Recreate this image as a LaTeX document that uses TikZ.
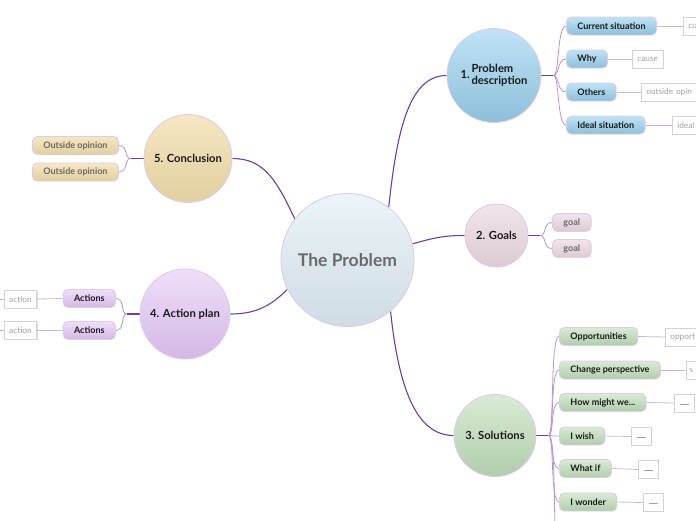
\documentclass[tikz,border=0pt]{standalone}
\usepackage{fontspec}
\setmainfont{Lato}
\usetikzlibrary{shadows}
\definecolor{edgemain}{HTML}{6B3FA0}
\definecolor{edgesub}{HTML}{B795D0}
\definecolor{edgeleaf}{HTML}{CDB5DE}
\definecolor{bordr}{HTML}{DDCBEA}
\definecolor{leafbord}{HTML}{D2D2D2}
\definecolor{leaftext}{HTML}{A0A0A0}
\definecolor{graytext}{HTML}{6A6A6A}
\definecolor{darktext}{HTML}{1A1A1A}
\definecolor{HubTop}{HTML}{EAF5FA}
\definecolor{HubBot}{HTML}{CFDCE1}
\definecolor{BlueTop}{HTML}{C0E3F6}
\definecolor{BlueBot}{HTML}{8DBFD9}
\definecolor{GreenTop}{HTML}{D9EBD5}
\definecolor{GreenBot}{HTML}{B0CDAC}
\definecolor{PinkTop}{HTML}{F1E5EB}
\definecolor{PinkBot}{HTML}{DCCAD3}
\definecolor{SandTop}{HTML}{F6E7C3}
\definecolor{SandBot}{HTML}{E2CF9F}
\definecolor{LilacTop}{HTML}{F0DEFA}
\definecolor{LilacBot}{HTML}{D3B8E4}
\pgfdeclarelayer{bg}
\pgfsetlayers{bg,main}
\newcommand{\placeholderdash}{\raisebox{-2pt}{\rule{9pt}{0.5pt}}}
\begin{document}
\begin{tikzpicture}[x=1pt,y=-1pt,
  circ/.style={circle, draw=bordr, line width=0.9pt, inner sep=0pt, align=center,
     font=\bfseries\fontsize{11.2}{13}\selectfont, text=darktext},
  hub/.style={circ, minimum size=133pt, top color=HubTop, bottom color=HubBot,
     font=\bfseries\fontsize{17.5}{20}\selectfont, text=graytext},
  pill/.style={rectangle, rounded corners=5pt, draw=bordr, line width=0.9pt,
     minimum height=18pt, inner xsep=11pt, inner ysep=0pt,
     font=\bfseries\fontsize{9}{10}\selectfont, text=darktext},
  bluepill/.style={pill, top color=BlueTop, bottom color=BlueBot},
  greenpill/.style={pill, top color=GreenTop, bottom color=GreenBot},
  pinkpill/.style={pill, top color=PinkTop, bottom color=PinkBot, text=graytext},
  sandpill/.style={pill, top color=SandTop, bottom color=SandBot, text=graytext},
  lilacpill/.style={pill, top color=LilacTop, bottom color=LilacBot},
  leaf/.style={rectangle, draw=leafbord, line width=0.6pt, fill=white,
     minimum height=18pt, inner xsep=5pt, inner ysep=0pt,
     font=\fontsize{8.3}{9}\selectfont, text=leaftext,
     drop shadow={shadow xshift=0.8pt, shadow yshift=-0.8pt, opacity=0.25, fill=gray}},
  cutleaf/.style={leaf, text width=#1, align=left},
  dashleaf/.style={leaf, minimum width=20pt, inner xsep=2pt},
  mainedge/.style={draw=edgemain, line width=1.1pt},
  subedge/.style={draw=edgesub, line width=0.8pt},
  leafedge/.style={draw=edgeleaf, line width=0.8pt}
]
\useasboundingbox (0,0) rectangle (696,520);
\clip (0,0) rectangle (696,520);

% main circles
\node[hub] (C) at (347.5,260) {The Problem};
\node[circ, minimum size=94pt, top color=BlueTop, bottom color=BlueBot] (N1) at (494,75.5)
  {1.\,\begin{tabular}[c]{@{}l@{}}Problem\\[-1pt]description\end{tabular}};
\node[circ, minimum size=63pt, top color=PinkTop, bottom color=PinkBot] (N2) at (496.5,235.5) {2. Goals};
\node[circ, minimum size=82pt, top color=GreenTop, bottom color=GreenBot] (N3) at (495,435.5) {3. Solutions};
\node[circ, minimum size=90pt, top color=LilacTop, bottom color=LilacBot] (N4) at (185,314) {4. Action plan};
\node[circ, minimum size=88pt, top color=SandTop, bottom color=SandBot] (N5) at (188,158.5) {5. Conclusion};

% 1. Problem description
\node[bluepill, anchor=west] (P1a) at (566,26) {Current situation};
\node[bluepill, anchor=west] (P1b) at (566,59) {Why};
\node[bluepill, anchor=west] (P1c) at (566,92) {Others};
\node[bluepill, anchor=west] (P1d) at (566,125) {Ideal situation};
\node[cutleaf=40pt, anchor=west] (L1a) at (683,26) {cu};
\node[leaf, anchor=west] (L1b) at (632,59) {cause};
\node[cutleaf=70pt, anchor=west] (L1c) at (641,92) {outside opin};
\node[cutleaf=40pt, anchor=west] (L1d) at (672,125) {ideal};

% 2. Goals
\node[pinkpill, anchor=west] (P2a) at (552,222.5) {goal};
\node[pinkpill, anchor=west] (P2b) at (552,248.5) {goal};

% 3. Solutions
\node[greenpill, anchor=west] (P3a) at (559,336.5) {Opportunities};
\node[greenpill, anchor=west] (P3b) at (559,370) {Change perspective};
\node[greenpill, anchor=west] (P3c) at (559,402.5) {How might we...};
\node[greenpill, anchor=west] (P3d) at (559,436) {I wish};
\node[greenpill, anchor=west] (P3e) at (559,468.5) {What if};
\node[greenpill, anchor=west] (P3f) at (559,502) {I wonder};
\node[cutleaf=50pt, anchor=west] (L3a) at (665,337) {opport};
\node[cutleaf=30pt, anchor=west, inner xsep=3pt] (L3b) at (686,370) {s};
\node[dashleaf, anchor=west] (L3c) at (674,403) {\placeholderdash};
\node[dashleaf, anchor=west] (L3d) at (631,436.5) {\placeholderdash};
\node[dashleaf, anchor=west] (L3e) at (638,469.5) {\placeholderdash};
\node[dashleaf, anchor=west] (L3f) at (643,502.5) {\placeholderdash};
\coordinate (X3g) at (555,530);

% 4. Action plan
\node[lilacpill, anchor=east] (P4a) at (116,298.5) {Actions};
\node[lilacpill, anchor=east] (P4b) at (116,330.5) {Actions};
\node[leaf, anchor=east] (L4a) at (37,299) {action};
\node[leaf, anchor=east] (L4b) at (37,330.5) {action};
\coordinate (X4a) at (-6,299);
\coordinate (X4b) at (-6,330.5);

% 5. Conclusion
\node[sandpill, anchor=east] (P5a) at (119,145.5) {Outside opinion};
\node[sandpill, anchor=east] (P5b) at (119,172) {Outside opinion};

% junctions
\coordinate (J1) at ([xshift=12pt]N1.east);
\coordinate (J2) at ([xshift=12pt]N2.east);
\coordinate (J3) at ([xshift=12pt]N3.east);
\coordinate (J4) at ([xshift=-13pt]N4.west);
\coordinate (J5) at ([xshift=-13pt]N5.west);

\begin{pgfonlayer}{bg}
  % main branches
  \draw[mainedge] (C.52) .. controls +(8,-75) and +(-38,0) .. (N1.west);
  \draw[mainedge] (C.14) .. controls +(22,-6) and +(-22,0) .. (N2.west);
  \draw[mainedge] (C.-50) .. controls +(8,75) and +(-38,0) .. (N3.west);
  \draw[mainedge] (C.142) .. controls +(-18,-38) and +(32,0) .. (N5.east);
  \draw[mainedge] (C.206) .. controls +(-16,16) and +(26,0) .. (N4.east);
  % stems
  \draw[mainedge] (N1.east) -- (J1);
  \draw[mainedge] (N2.east) -- (J2);
  \draw[mainedge] (N3.east) -- (J3);
  \draw[mainedge] (N4.west) -- (J4);
  \draw[mainedge] (N5.west) -- (J5);
  % forks
  \foreach \p in {P1a,P1b,P1c,P1d}
    \draw[subedge] (J1) .. controls +(6,0) and +(-9,0) .. (\p.west);
  \foreach \p in {P2a,P2b}
    \draw[subedge] (J2) .. controls +(6,0) and +(-9,0) .. (\p.west);
  \foreach \p in {P3a,P3b,P3c,P3d,P3e,P3f}
    \draw[subedge] (J3) .. controls +(6,0) and +(-9,0) .. (\p.west);
  \draw[subedge] (J3) .. controls +(6,0) and +(-1,-40) .. (X3g);
  \foreach \p in {P4a,P4b}
    \draw[subedge] (J4) .. controls +(-6,0) and +(9,0) .. (\p.east);
  \foreach \p in {P5a,P5b}
    \draw[subedge] (J5) .. controls +(-6,0) and +(9,0) .. (\p.east);
  % leaf links
  \draw[leafedge] (P1a.east) -- (L1a.west);
  \draw[leafedge] (P1b.east) -- (L1b.west);
  \draw[leafedge] (P1c.east) -- (L1c.west);
  \draw[leafedge] (P1d.east) -- (L1d.west);
  \draw[leafedge] (P3a.east) -- (L3a.west);
  \draw[leafedge] (P3b.east) -- (L3b.west);
  \draw[leafedge] (P3c.east) -- (L3c.west);
  \draw[leafedge] (P3d.east) -- (L3d.west);
  \draw[leafedge] (P3e.east) -- (L3e.west);
  \draw[leafedge] (P3f.east) -- (L3f.west);
  \draw[leafedge] (P4a.west) -- (L4a.east);
  \draw[leafedge] (P4b.west) -- (L4b.east);
  \draw[leafedge] (L4a.west) -- (X4a);
  \draw[leafedge] (L4b.west) -- (X4b);
\end{pgfonlayer}
\end{tikzpicture}
\end{document}
